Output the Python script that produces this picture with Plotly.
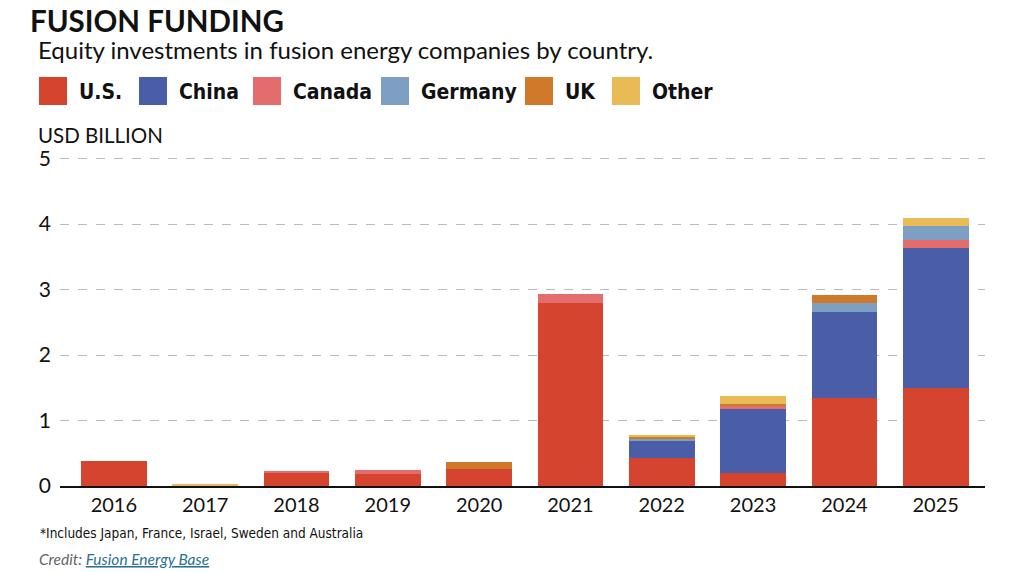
import plotly.graph_objects as go

# data (USD billion)
years = ['2016', '2017', '2018', '2019', '2020', '2021', '2022', '2023', '2024', '2025']
us = [0.38, 0.005, 0.21, 0.18, 0.26, 2.80, 0.43, 0.20, 1.345, 1.49]
china = [0, 0, 0, 0, 0, 0, 0.26, 0.98, 1.305, 2.15]
canada = [0, 0, 0.025, 0.065, 0, 0.14, 0, 0.035, 0, 0.12]
germany = [0, 0, 0, 0, 0, 0, 0.03, 0, 0.14, 0.21]
uk = [0, 0.005, 0, 0, 0.11, 0, 0.035, 0.035, 0.13, 0]
other = [0, 0.01, 0, 0, 0, 0, 0.025, 0.13, 0, 0.12]

series_names = ['U.S.', 'China', 'Canada', 'Germany', 'UK', 'Other']
series_colors = ['#D5442F', '#4A5DA7', '#E46C6C', '#7C9FC3', '#CF7A2A', '#E9BB57']

# page body has an 8px margin, so the figure is drawn 8px smaller and positions shifted
OFF = 8
W, H = 1024 - OFF, 572 - OFF
L, R, T, B = 52, 39, 148, 86

COND = 'DejaVu Sans Condensed, DejaVu Sans, sans-serif'
MAIN = 'Lato, Open Sans, sans-serif'


def px(x):
    return (x - OFF - L) / (W - L - R)


def py(y):
    return (H - B - (y - OFF)) / (H - T - B)


def main():
    fig = go.Figure()
    for name, vals, color in zip(series_names, [us, china, canada, germany, uk, other], series_colors):
        fig.add_trace(go.Bar(
            x=years,
            y=vals,
            name=name,
            marker=dict(color=color, line=dict(width=0)),
            showlegend=False,
        ))

    # custom legend with big squares
    legend_x = [39, 139, 253, 381, 525, 612]
    shapes = []
    annotations = []
    for x0, name, color in zip(legend_x, series_names, series_colors):
        shapes.append(dict(
            type='rect', xref='paper', yref='paper',
            x0=px(x0), x1=px(x0 + 28), y0=py(105), y1=py(77),
            fillcolor=color, line=dict(width=0),
        ))
        annotations.append(dict(
            xref='paper', yref='paper', x=px(x0 + 38), y=py(92),
            xanchor='left', yanchor='middle', showarrow=False,
            text='<b>' + name + '</b>',
            font=dict(family=COND, size=21, color='#111111'),
        ))

    annotations += [
        dict(xref='paper', yref='paper', x=px(29), y=py(21), xanchor='left', yanchor='middle',
             showarrow=False, text='<b>FUSION FUNDING</b>', borderpad=0,
             font=dict(family=MAIN, size=29.5, color='#111111')),
        dict(xref='paper', yref='paper', x=px(36), y=py(50), xanchor='left', yanchor='middle',
             showarrow=False, text='Equity investments in fusion energy companies by country.',
             font=dict(family=MAIN, size=24, color='#111111')),
        dict(xref='paper', yref='paper', x=px(36), y=py(135), xanchor='left', yanchor='middle',
             showarrow=False, text='USD BILLION',
             font=dict(family=MAIN, size=20.5, color='#111111')),
        dict(xref='paper', yref='paper', x=px(38), y=py(533), xanchor='left', yanchor='middle',
             showarrow=False, text='*Includes Japan, France, Israel, Sweden and Australia',
             font=dict(family=COND, size=13.5, color='#111111')),
        dict(xref='paper', yref='paper', x=px(37), y=py(559), xanchor='left', yanchor='middle',
             showarrow=False,
             text='<i>Credit: <span style="color:#2B6F91"><u>Fusion Energy Base</u></span></i>',
             font=dict(family=MAIN, size=15.5, color='#666666')),
    ]

    fig.update_layout(
        barmode='stack',
        bargap=0.28,
        width=W, height=H,
        margin=dict(l=L, r=R, t=T, b=B),
        paper_bgcolor='white',
        plot_bgcolor='white',
        shapes=shapes,
        annotations=annotations,
        xaxis=dict(
            range=[-0.59, 9.54],
            showline=True, linecolor='#111111', linewidth=1.5,
            ticks='', showgrid=False,
            tickfont=dict(family=MAIN, size=20, color='#111111'),
        ),
        yaxis=dict(
            range=[0, 5.04],
            tickvals=[0, 1, 2, 3, 4, 5],
            showgrid=True, gridcolor='#BBBBBB', griddash='dash', gridwidth=1,
            zeroline=False, showline=False, ticks='',
            ticklabelstandoff=8,
            tickfont=dict(family=MAIN, size=21, color='#111111'),
        ),
    )
    fig.write_html('out.html')


if __name__ == '__main__':
    main()
